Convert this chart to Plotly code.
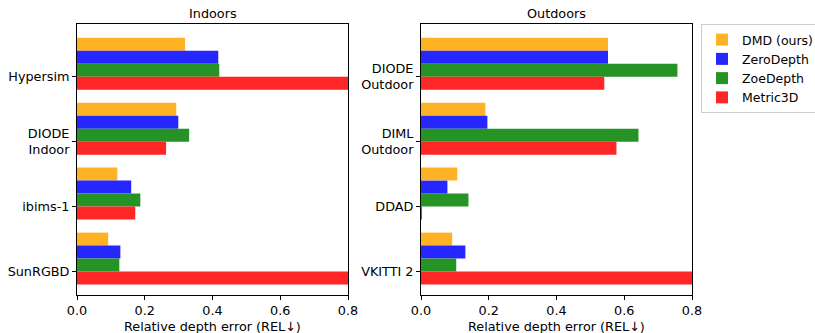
import plotly.graph_objects as go

indoor_cats = ["Hypersim", "DIODE<br>Indoor", "ibims-1", "SunRGBD"]
outdoor_cats = ["DIODE<br>Outdoor", "DIML<br>Outdoor", "DDAD", "VKITTI 2"]
methods = ["DMD (ours)", "ZeroDepth", "ZoeDepth", "Metric3D"]

indoor_vals = {
    "DMD (ours)": [0.319, 0.293, 0.119, 0.092],
    "ZeroDepth": [0.417, 0.299, 0.160, 0.128],
    "ZoeDepth": [0.420, 0.331, 0.187, 0.125],
    "Metric3D": [0.95, 0.263, 0.172, 0.95],
}
outdoor_vals = {
    "DMD (ours)": [0.552, 0.190, 0.107, 0.092],
    "ZeroDepth": [0.552, 0.196, 0.078, 0.131],
    "ZoeDepth": [0.757, 0.642, 0.140, 0.104],
    "Metric3D": [0.541, 0.577, 0.002, 0.95],
}
colors = {
    "DMD (ours)": "#FFB226",
    "ZeroDepth": "#2626FF",
    "ZoeDepth": "#269326",
    "Metric3D": "#FF2626",
}
offsets = {"DMD (ours)": -0.6, "ZeroDepth": -0.4, "ZoeDepth": -0.2, "Metric3D": 0.0}
xticks = [0.0, 0.2, 0.4, 0.6, 0.8]

FONT = "DejaVu Sans"
FS = 12.8
fig = go.Figure()
pos = list(range(4))
for m in methods:
    fig.add_trace(go.Bar(
        x=indoor_vals[m], y=pos, orientation="h", name=m,
        marker=dict(color=colors[m], line=dict(width=0)),
        width=0.2, offset=offsets[m], xaxis="x", yaxis="y",
        legendgroup=m, showlegend=True))
    fig.add_trace(go.Bar(
        x=outdoor_vals[m], y=pos, orientation="h", name=m,
        marker=dict(color=colors[m], line=dict(width=0)),
        width=0.2, offset=offsets[m], xaxis="x2", yaxis="y2",
        legendgroup=m, showlegend=False))

axis_common = dict(showgrid=False, zeroline=False, showline=True, linecolor="black",
                   linewidth=1, mirror=True, ticks="outside", ticklen=4,
                   automargin=False,
                   tickcolor="black", tickfont=dict(family=FONT, size=FS, color="black"))
yr = [3.36, -0.81]
xd1 = [77 / 815, 348 / 815]
xd2 = [421 / 815, 692 / 815]
yd = [1 - 295 / 333, 1 - 24 / 333]
fig.update_layout(
    width=815, height=333,
    margin=dict(l=0, r=0, t=0, b=0, autoexpand=False),
    paper_bgcolor="white", plot_bgcolor="white",
    barmode="overlay",
    font=dict(family=FONT, size=FS, color="black"),
    xaxis=dict(domain=xd1, range=[0, 0.8], tickvals=xticks,
               ticktext=[f"{v:.1f}" for v in xticks], anchor="y", **axis_common),
    yaxis=dict(domain=yd, range=yr, tickvals=pos, ticktext=indoor_cats,
               anchor="x", **axis_common),
    xaxis2=dict(domain=xd2, range=[0, 0.8], tickvals=xticks,
                ticktext=[f"{v:.1f}" for v in xticks], anchor="y2", **axis_common),
    yaxis2=dict(domain=yd, range=yr, tickvals=pos, ticktext=outdoor_cats,
                anchor="x2", **axis_common),
    legend=dict(x=701 / 815, y=1 - 24 / 333, xanchor="left", yanchor="top",
                bordercolor="#cccccc", borderwidth=1, bgcolor="white",
                font=dict(family=FONT, size=12.5), tracegroupgap=0, itemwidth=30),
    annotations=[
        dict(text="Indoors", x=sum(xd1) / 2, y=1 - 13 / 333, xref="paper", yref="paper",
             xanchor="center", yanchor="middle", showarrow=False, font=dict(size=FS)),
        dict(text="Outdoors", x=sum(xd2) / 2, y=1 - 13 / 333, xref="paper", yref="paper",
             xanchor="center", yanchor="middle", showarrow=False, font=dict(size=FS)),
        dict(text="Relative depth error (REL↓)", x=sum(xd1) / 2, y=1 - 326 / 333,
             xref="paper", yref="paper", xanchor="center", yanchor="middle",
             showarrow=False, font=dict(size=FS)),
        dict(text="Relative depth error (REL↓)", x=sum(xd2) / 2, y=1 - 326 / 333,
             xref="paper", yref="paper", xanchor="center", yanchor="middle",
             showarrow=False, font=dict(size=FS)),
    ],
)
fig.write_html("out.html")
